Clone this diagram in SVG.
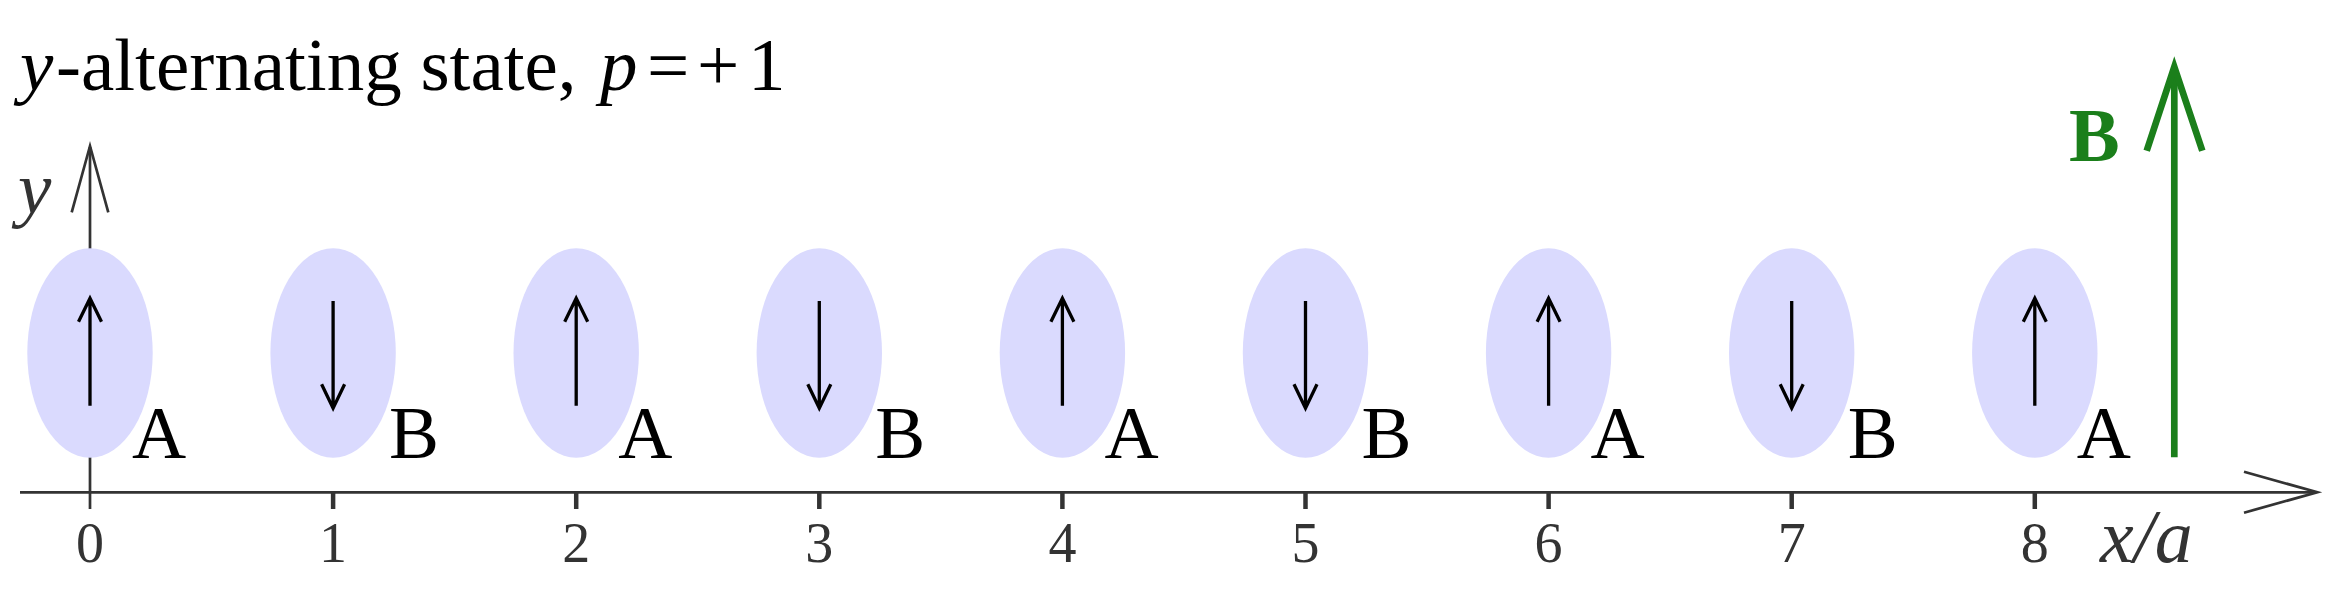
<svg xmlns="http://www.w3.org/2000/svg" xmlns:xlink="http://www.w3.org/1999/xlink" width="2352" height="616" viewBox="0 0 2352 616">
<style>
.bg{fill:#ffffff}
.site{fill:#dadafe}
.spin{fill:none;stroke:#000;stroke-width:3.3;stroke-linejoin:miter}
.axis{fill:none;stroke:#333;stroke-width:2.7}
.tick{stroke:#333;stroke-width:4.5}
.ticklbl{font-family:"Liberation Serif","Times New Roman",serif;font-size:56px;fill:#333;text-anchor:middle}
.lbl{font-family:"Liberation Serif","Times New Roman",serif;font-size:75px;fill:#000}
.title{font-family:"Liberation Serif","Times New Roman",serif;font-size:75px;fill:#000}
.it{font-style:italic}
.field{fill:none;stroke:#1b7f1b;stroke-width:6.7;stroke-linejoin:miter}
.fieldlbl{font-family:"Liberation Serif","Times New Roman",serif;font-size:76px;font-weight:bold;fill:#1b7f1b}
</style>
<defs>
<path id="up" d="M0,52.7 V-54.7 M-11.5,-31.3 L0,-54.7 L11.5,-31.3"/>
<path id="down" d="M0,-52 V55.3 M-11.5,31.3 L0,55.3 L11.5,31.3"/>
</defs>
<rect class="bg" x="0" y="0" width="2352" height="616"/>

<text class="title" x="20" y="90"><tspan class="it">y</tspan><tspan x="56">-alternating state,</tspan><tspan class="it" x="600">p</tspan><tspan x="647">=</tspan><tspan x="697">+</tspan><tspan x="748">1</tspan></text>

<g id="connectors">
<g id="y-axis">
<line class="axis" x1="90" y1="509" x2="90" y2="147"/>
<polyline class="axis" points="71.7,212.3 90,146 108.3,212.3"/>
<text class="title it" x="18" y="213" style="fill:#333">y</text>
</g>
<g id="x-axis">
<line class="axis" x1="20" y1="492.3" x2="2316" y2="492.3"/>
<polyline class="axis" points="2244,471.7 2317.3,492.3 2244,512.7"/>
<text class="title it" x="2100" y="561.7" style="fill:#333;font-size:76px">x/a</text>
</g>
</g>

<g id="ticks">
<line class="tick" x1="333.1" y1="492" x2="333.1" y2="509"/>
<line class="tick" x1="576.2" y1="492" x2="576.2" y2="509"/>
<line class="tick" x1="819.3" y1="492" x2="819.3" y2="509"/>
<line class="tick" x1="1062.4" y1="492" x2="1062.4" y2="509"/>
<line class="tick" x1="1305.5" y1="492" x2="1305.5" y2="509"/>
<line class="tick" x1="1548.6" y1="492" x2="1548.6" y2="509"/>
<line class="tick" x1="1791.7" y1="492" x2="1791.7" y2="509"/>
<line class="tick" x1="2034.8" y1="492" x2="2034.8" y2="509"/>
<text class="ticklbl" x="90" y="562">0</text>
<text class="ticklbl" x="333.1" y="562">1</text>
<text class="ticklbl" x="576.2" y="562">2</text>
<text class="ticklbl" x="819.3" y="562">3</text>
<text class="ticklbl" x="1062.4" y="562">4</text>
<text class="ticklbl" x="1305.5" y="562">5</text>
<text class="ticklbl" x="1548.6" y="562">6</text>
<text class="ticklbl" x="1791.7" y="562">7</text>
<text class="ticklbl" x="2034.8" y="562">8</text>
</g>

<g id="site0"><ellipse class="site" cx="90" cy="353" rx="62.7" ry="104.7"/><use class="spin" href="#up" x="90" y="353"/><text class="lbl" x="132" y="457.7">A</text></g>
<g id="site1"><ellipse class="site" cx="333.1" cy="353" rx="62.7" ry="104.7"/><use class="spin" href="#down" x="333.1" y="353"/><text class="lbl" x="389" y="457.7">B</text></g>
<g id="site2"><ellipse class="site" cx="576.2" cy="353" rx="62.7" ry="104.7"/><use class="spin" href="#up" x="576.2" y="353"/><text class="lbl" x="618.2" y="457.7">A</text></g>
<g id="site3"><ellipse class="site" cx="819.3" cy="353" rx="62.7" ry="104.7"/><use class="spin" href="#down" x="819.3" y="353"/><text class="lbl" x="875.3" y="457.7">B</text></g>
<g id="site4"><ellipse class="site" cx="1062.4" cy="353" rx="62.7" ry="104.7"/><use class="spin" href="#up" x="1062.4" y="353"/><text class="lbl" x="1104.4" y="457.7">A</text></g>
<g id="site5"><ellipse class="site" cx="1305.5" cy="353" rx="62.7" ry="104.7"/><use class="spin" href="#down" x="1305.5" y="353"/><text class="lbl" x="1361.5" y="457.7">B</text></g>
<g id="site6"><ellipse class="site" cx="1548.6" cy="353" rx="62.7" ry="104.7"/><use class="spin" href="#up" x="1548.6" y="353"/><text class="lbl" x="1590.6" y="457.7">A</text></g>
<g id="site7"><ellipse class="site" cx="1791.7" cy="353" rx="62.7" ry="104.7"/><use class="spin" href="#down" x="1791.7" y="353"/><text class="lbl" x="1847.7" y="457.7">B</text></g>
<g id="site8"><ellipse class="site" cx="2034.8" cy="353" rx="62.7" ry="104.7"/><use class="spin" href="#up" x="2034.8" y="353"/><text class="lbl" x="2076.8" y="457.7">A</text></g>

<g id="field">
<line class="field" x1="2174.3" y1="457.3" x2="2174.3" y2="72"/>
<polyline class="field" points="2146.7,150.7 2174.3,67 2202.3,150.7"/>
<text class="fieldlbl" x="2069" y="161">B</text>
</g>
</svg>
